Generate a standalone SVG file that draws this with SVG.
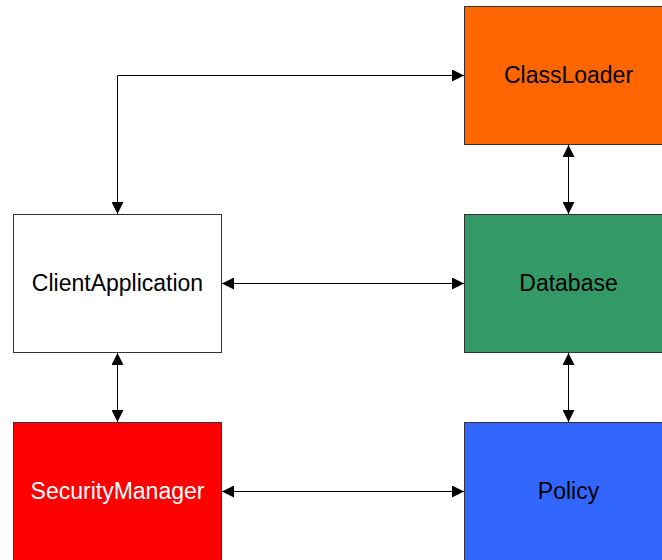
<svg xmlns="http://www.w3.org/2000/svg" width="662" height="560" viewBox="0 0 662 560">
  <defs>
    <marker id="arrow" viewBox="0 0 12 12" refX="12" refY="6" markerWidth="12" markerHeight="12" markerUnits="userSpaceOnUse" orient="auto-start-reverse">
      <path d="M0,0 L12,6 L0,12 Z" fill="#000"/>
    </marker>
  </defs>
  <style>
    .box { stroke: #333; stroke-width: 1; }
    .label { font-family: "Liberation Sans", Arial, sans-serif; font-size: 23px; text-anchor: middle; dominant-baseline: central; }
    .conn { fill: none; stroke: #000; stroke-width: 1; marker-start: url(#arrow); marker-end: url(#arrow); }
  </style>
  <rect width="662" height="560" fill="#fff"/>

  <g id="connectors">
    <path class="conn" d="M117.5,214 V75.5 H464"/>
    <path class="conn" d="M568.5,145 V214"/>
    <path class="conn" d="M222,283.5 H464"/>
    <path class="conn" d="M117.5,353 V422"/>
    <path class="conn" d="M568.5,353 V422"/>
    <path class="conn" d="M222,491.5 H464"/>
  </g>

  <g id="ClassLoader">
    <rect class="box" x="464.5" y="6.5" width="208" height="138" fill="#FF6600"/>
    <text class="label" x="568.5" y="75" fill="#000">ClassLoader</text>
  </g>
  <g id="ClientApplication">
    <rect class="box" x="13.5" y="214.5" width="208" height="138" fill="#fff"/>
    <text class="label" x="117.5" y="283" fill="#000">ClientApplication</text>
  </g>
  <g id="Database">
    <rect class="box" x="464.5" y="214.5" width="208" height="138" fill="#339966"/>
    <text class="label" x="568.5" y="283" fill="#000">Database</text>
  </g>
  <g id="SecurityManager">
    <rect class="box" x="13.5" y="422.5" width="208" height="138" fill="#FF0000"/>
    <text class="label" x="117.5" y="491" fill="#fff">SecurityManager</text>
  </g>
  <g id="Policy">
    <rect class="box" x="464.5" y="422.5" width="208" height="138" fill="#3366FF"/>
    <text class="label" x="568.5" y="491" fill="#000">Policy</text>
  </g>
</svg>
